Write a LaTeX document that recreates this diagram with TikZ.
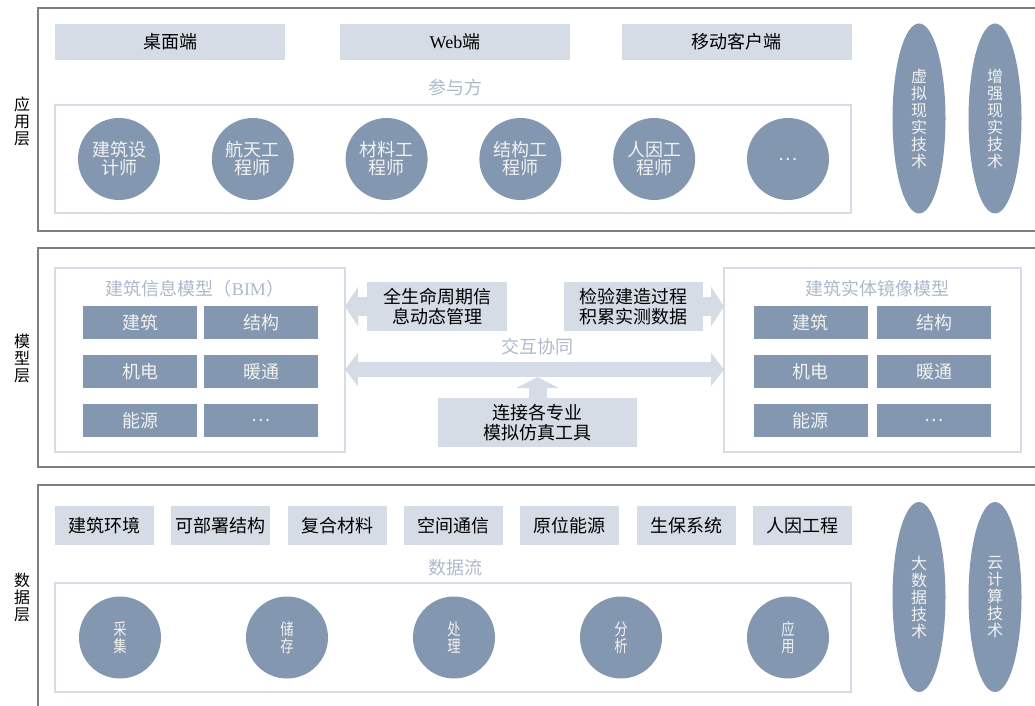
\documentclass[tikz,border=0pt]{standalone}
\usepackage{fontspec}
\usepackage{graphicx}
\setmainfont{Noto Sans CJK SC}
\newfontfamily\latinrm{Liberation Serif}
\newcommand\narrowtxt[1]{\scalebox{0.8}[1]{#1}}
\usetikzlibrary{shapes.geometric,arrows.meta}

\definecolor{frameGray}{HTML}{7F7F7F}
\definecolor{slateFill}{HTML}{8497B0}
\definecolor{paleFill}{HTML}{D6DCE5}
\definecolor{titleBlue}{HTML}{ADB9CA}
\definecolor{softWhite}{HTML}{F2F2F2}

\tikzset{every picture/.style={line width=0.75pt}}
\tikzset{
  layer/.style={draw=frameGray, line width=1.5pt},
  frame/.style={draw=paleFill, line width=1.5pt},
  side/.style={align=center, font=\fontsize{12}{12.75}\selectfont},
  title/.style={text=titleBlue, font=\fontsize{13.5}{13.5}\selectfont},
  bar/.style={fill=paleFill, inner sep=0pt, outer sep=0pt, minimum width=172.5pt, minimum height=27pt, font=\fontsize{13.5}{13.5}\selectfont},
  sbar/.style={fill=paleFill, inner sep=0pt, outer sep=0pt, minimum width=74.25pt, minimum height=29.25pt, font=\fontsize{13.5}{13.5}\selectfont},
  role/.style={circle, fill=slateFill, text=softWhite, inner sep=0pt, minimum size=61.5pt, align=center, font=\fontsize{13.5}{13.5}\selectfont},
  stage/.style={circle, fill=slateFill, text=softWhite, inner sep=0pt, minimum size=61.5pt, align=center, font=\fontsize{12.5}{12.75}\selectfont},
  tech/.style={ellipse, fill=slateFill, text=softWhite, inner sep=0pt, minimum width=39.75pt, minimum height=142.5pt, align=center, font=\fontsize{12}{12.75}\selectfont},
  modbox/.style={frame, inner sep=0pt, outer sep=0pt, minimum height=138pt},
  cell/.style={fill=slateFill, text=softWhite, inner sep=0pt, minimum width=85.5pt, minimum height=24.75pt, font=\fontsize{13.5}{13.5}\selectfont},
  note/.style={fill=paleFill, inner sep=0pt, outer sep=0pt, minimum height=36.75pt, align=center, font=\fontsize{13.5}{15}\selectfont},
  blk/.style={draw=paleFill, color=paleFill}
}

\begin{document}
\begin{tikzpicture}[x=0.75pt,y=0.75pt,yscale=-1,xscale=1]
  \useasboundingbox (0,0) rectangle (1035,706);

  %Application layer
  \draw [layer] (38,8) rectangle (1040,231);
  \draw (22,121) node [side] (appT) {应\\用\\层};
  \draw (170,42) node [bar] (desk) {桌面端};
  \draw (455,42) node [bar] (web) {{\latinrm Web}端};
  \draw (736.5,42) node [bar] (mobile) {移动客户端};
  \draw (455,88) node [title] (partT) {参与方};
  \draw [frame] (55,105) rectangle (851,213);
  \foreach \nm [count=\i from 0] in {{建筑设\\计师},{航天工\\程师},{材料工\\程师},{结构工\\程师},{人因工\\程师},{\ldots}}
    \draw (119+133.8*\i,159) node [role] (role\i) {\nm};
  \draw (919,118.5) node [tech] (vr) {虚\\拟\\现\\实\\技\\术};
  \draw (995,118.5) node [tech] (ar) {增\\强\\现\\实\\技\\术};

  %Model layer
  \draw [layer] (38,248) rectangle (1040,467);
  \draw (22,358) node [side] (modT) {模\\型\\层};
  \draw (200,360) node [modbox, minimum width=217.5pt] (bim) {};
  \draw (872.5,360) node [modbox, minimum width=222.75pt] (mirror) {};
  \draw (195,289) node [title] (bimT) {建筑信息模型（{\latinrm BIM}）};
  \draw (877,289) node [title] (mirrorT) {建筑实体镜像模型};
  \foreach \nm [count=\i from 0] in {建筑,机电,能源}
    \draw (140,322.5+49*\i) node [cell] (bimA\i) {\nm};
  \foreach \nm [count=\i from 0] in {结构,暖通,{\ldots}}
    \draw (261,322.5+49*\i) node [cell] (bimB\i) {\nm};
  \foreach \nm [count=\i from 0] in {建筑,机电,能源}
    \draw (810.5,322.5+49*\i) node [cell] (mirA\i) {\nm};
  \foreach \nm [count=\i from 0] in {结构,暖通,{\ldots}}
    \draw (934,322.5+49*\i) node [cell] (mirB\i) {\nm};

  \draw (437,306.5) node [note, minimum width=105pt] (life) {全生命周期信\\息动态管理};
  \draw (633.5,306.5) node [note, minimum width=104.25pt] (check) {检验建造过程\\积累实测数据};
  \draw (537.5,422.5) node [note, minimum width=149.25pt] (sim) {连接各专业\\模拟仿真工具};
  \draw (537,347) node [title] (linkT) {交互协同};
  \coordinate (mid) at (537.5,369.5);

  \draw [blk, line width=14.25pt, -{Triangle[length=9.75pt,width=29.25pt]}] (life.west) -- (bim.east |- life.west);
  \draw [blk, line width=14.25pt, -{Triangle[length=9.75pt,width=29.25pt]}] (check.east) -- (mirror.west |- check.east);
  \draw [blk, line width=11.25pt, {Triangle[length=9.75pt,width=24.75pt]}-{Triangle[length=9.75pt,width=24.75pt]}] (bim.east |- mid) -- (mirror.west |- mid);
  \draw [blk, line width=13.5pt, shorten >=5.625pt, -{Triangle[length=8.25pt,width=31.5pt]}] (sim.north) -- (sim.north |- mid);

  %Data layer
  \draw [layer] (38,485) rectangle (1040,720);
  \draw (22,597) node [side] (dataT) {数\\据\\层};
  \foreach \nm [count=\i from 0] in {建筑环境,可部署结构,复合材料,空间通信,原位能源,生保系统,人因工程}
    \draw (104.5+116.3*\i,525.5) node [sbar] (src\i) {\nm};
  \draw (455,568) node [title] (flowT) {数据流};
  \draw [frame] (55,583) rectangle (851,692);
  \foreach \a/\b [count=\i from 0] in {采/集,储/存,处/理,分/析,应/用}
    \draw (120+167*\i,637.5) node [stage] (stage\i) {\narrowtxt{\a}\\\narrowtxt{\b}};
  \draw (919,597) node [tech] (bigdata) {大\\数\\据\\技\\术};
  \draw (995,597) node [tech] (cloud) {云\\计\\算\\技\\术};

\end{tikzpicture}
\end{document}
